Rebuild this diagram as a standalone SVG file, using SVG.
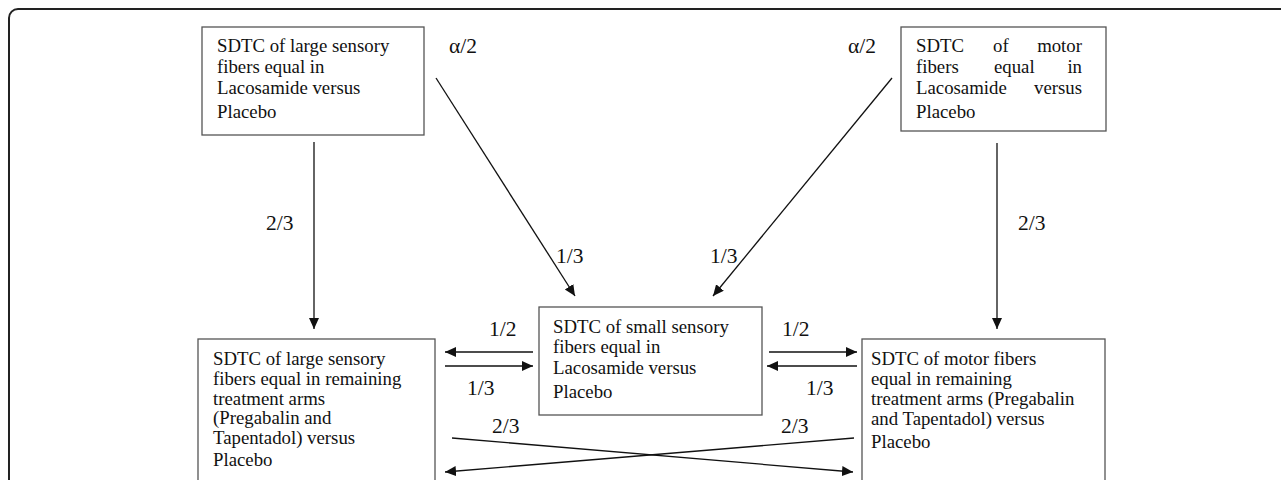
<svg xmlns="http://www.w3.org/2000/svg" width="1281" height="480" viewBox="0 0 1281 480">
  <style>
    .frame { fill: none; stroke: #222; stroke-width: 2; }
    .box { fill: #fff; stroke: #555; stroke-width: 1.3; }
    .txt { font-family: "Liberation Serif", "Times New Roman", serif; font-size: 18.8px; fill: #111; }
    .lbl { font-family: "Liberation Serif", "Times New Roman", serif; font-size: 21.5px; fill: #111; }
    .edge { fill: none; stroke: #111; stroke-width: 1.3; }
  </style>
  <defs>
    <marker id="arrow" markerUnits="userSpaceOnUse" markerWidth="12" markerHeight="11" refX="11" refY="5" orient="auto">
      <path d="M0,0 L11,5 L0,10 z" fill="#111"/>
    </marker>
  </defs>
  <rect width="1281" height="480" fill="#fff"/>
  <rect class="frame" x="9" y="9" width="1300" height="500" rx="9"/>

  <!-- top-left: large sensory, Lacosamide -->
  <g id="large-laco">
    <rect class="box" x="202" y="27" width="222" height="108"/>
    <text class="txt" x="217" y="52">SDTC of large sensory</text>
    <text class="txt" x="217" y="73">fibers equal in</text>
    <text class="txt" x="217" y="94">Lacosamide versus</text>
    <text class="txt" x="217" y="118">Placebo</text>
  </g>

  <!-- top-right: motor, Lacosamide (justified) -->
  <g id="motor-laco">
    <rect class="box" x="901" y="27" width="205" height="104"/>
    <text class="txt" x="916" y="52">SDTC</text>
    <text class="txt" x="993" y="52">of</text>
    <text class="txt" x="1082" y="52" text-anchor="end">motor</text>
    <text class="txt" x="916" y="73">fibers</text>
    <text class="txt" x="994" y="73">equal</text>
    <text class="txt" x="1082" y="73" text-anchor="end">in</text>
    <text class="txt" x="916" y="94">Lacosamide</text>
    <text class="txt" x="1082" y="94" text-anchor="end">versus</text>
    <text class="txt" x="916" y="118">Placebo</text>
  </g>

  <!-- centre: small sensory, Lacosamide -->
  <g id="small-laco">
    <rect class="box" x="539" y="307" width="223" height="108"/>
    <text class="txt" x="553" y="333">SDTC of small sensory</text>
    <text class="txt" x="553" y="353">fibers equal in</text>
    <text class="txt" x="553" y="374">Lacosamide versus</text>
    <text class="txt" x="553" y="398">Placebo</text>
  </g>

  <!-- bottom-left: large sensory, remaining arms -->
  <g id="large-rest">
    <rect class="box" x="198" y="339" width="237" height="160"/>
    <text class="txt" x="213" y="365">SDTC of large sensory</text>
    <text class="txt" x="213" y="385">fibers equal in remaining</text>
    <text class="txt" x="213" y="405">treatment arms</text>
    <text class="txt" x="213" y="424">(Pregabalin and</text>
    <text class="txt" x="213" y="444">Tapentadol) versus</text>
    <text class="txt" x="213" y="466">Placebo</text>
  </g>

  <!-- bottom-right: motor, remaining arms -->
  <g id="motor-rest">
    <rect class="box" x="862" y="339" width="243" height="160"/>
    <text class="txt" x="871" y="365">SDTC of motor fibers</text>
    <text class="txt" x="871" y="385">equal in remaining</text>
    <text class="txt" x="871" y="405">treatment arms (Pregabalin</text>
    <text class="txt" x="871" y="425">and Tapentadol) versus</text>
    <text class="txt" x="871" y="448">Placebo</text>
  </g>

  <g id="connectors">
    <line class="edge" x1="314" y1="142" x2="314" y2="329" marker-end="url(#arrow)"/>
    <line class="edge" x1="997" y1="143" x2="997" y2="329" marker-end="url(#arrow)"/>
    <line class="edge" x1="436" y1="78" x2="575" y2="296" marker-end="url(#arrow)"/>
    <line class="edge" x1="892" y1="78" x2="713" y2="296" marker-end="url(#arrow)"/>
    <line class="edge" x1="533" y1="352" x2="445" y2="352" marker-end="url(#arrow)"/>
    <line class="edge" x1="445" y1="366" x2="533" y2="366" marker-end="url(#arrow)"/>
    <line class="edge" x1="769" y1="352" x2="857" y2="352" marker-end="url(#arrow)"/>
    <line class="edge" x1="857" y1="366" x2="767" y2="366" marker-end="url(#arrow)"/>
    <line class="edge" x1="452" y1="438" x2="853" y2="472" marker-end="url(#arrow)"/>
    <line class="edge" x1="854" y1="438" x2="445" y2="472" marker-end="url(#arrow)"/>
  </g>

  <g id="weights">
    <text class="lbl" x="449" y="53">α/2</text>
    <text class="lbl" x="848" y="53">α/2</text>
    <text class="lbl" x="266" y="230">2/3</text>
    <text class="lbl" x="1018" y="230">2/3</text>
    <text class="lbl" x="556" y="263">1/3</text>
    <text class="lbl" x="710" y="263">1/3</text>
    <text class="lbl" x="489" y="336">1/2</text>
    <text class="lbl" x="782" y="336">1/2</text>
    <text class="lbl" x="467" y="395">1/3</text>
    <text class="lbl" x="806" y="395">1/3</text>
    <text class="lbl" x="492" y="433">2/3</text>
    <text class="lbl" x="781" y="433">2/3</text>
  </g>
</svg>
